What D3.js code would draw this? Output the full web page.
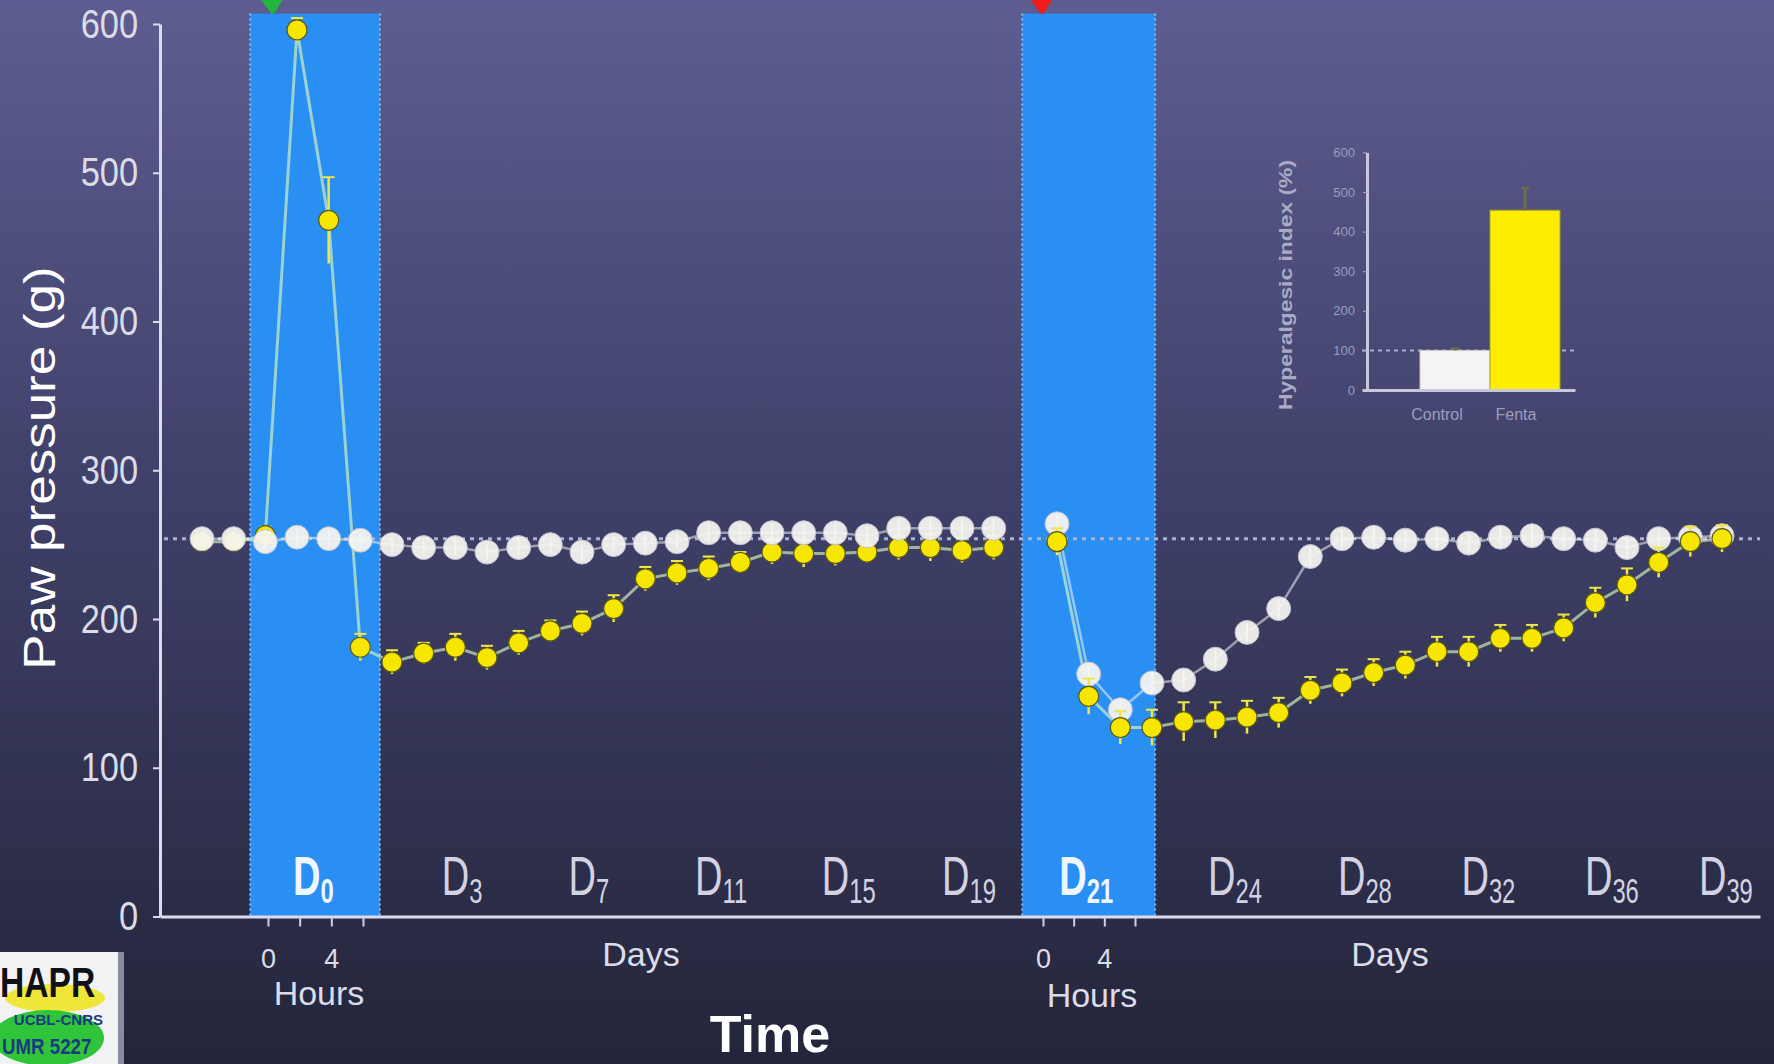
<!DOCTYPE html>
<html>
<head>
<meta charset="utf-8">
<script src="https://cdn.jsdelivr.net/npm/d3@7"></script>
<style>
html, body { margin: 0; padding: 0; background: #2c2d48; }
svg { display: block; }
text { font-family: "Liberation Sans", Arial, sans-serif; }
</style>
</head>
<body>
<svg id="chart"></svg>
<script>
// paw pressure time course, fentanyl vs control

/*  DATA  */

// x position of each measure, in "slots" (one slot = one day / one 2h step)
// 0-1 baseline, 2-5 hours on D0, 6-25 days, gap, 27-30 hours on D21, 31-48 days
const timeSlot = [0,1,2,3,4,5,6,7,8,9,10,11,12,13,14,15,16,17,18,19,20,21,22,23,24,25,
    27,28,29,30,31,32,33,34,35,36,37,38,39,40,41,42,43,44,45,46,47,48];

const control = [254,254,252,255,254,253,250,248,248,245,248,250,245,250,251,252,
    258,258,258,258,258,256,261,261,261,261,
    264,163,139,157,159,173,191,207,242,254,255,253,254,251,255,256,254,253,248,254,255,256];
const controlErr = [5,5,5,5,5,5,5,5,5,5,5,5,5,5,5,5,6,6,6,6,6,6,6,6,6,6,
    6,7,7,8,6,6,6,6,6,6,7,6,7,6,7,8,6,7,7,6,6,6];

const fenta = [252,252,256,596,468,181,171,177,181,174,184,192,197,207,227,231,
    234,238,245,244,244,245,248,248,246,248,
    252,148,127,127,131,132,134,137,152,157,164,169,178,178,187,187,194,211,223,238,252,254];
const fentaErr = [6,6,6,8,29,9,8,7,9,8,8,7,8,9,8,8,8,7,8,9,8,7,8,9,8,8,
    9,12,11,12,13,12,11,10,9,9,9,9,10,10,9,9,9,10,11,10,10,9];

const baselineValue = 254;

// blue windows (injection days), in slots
const windowSlots = [[1.52, 5.62], [25.9, 30.1]];
const windowTop = 607;
const markerSlots = [2.2, 26.5];
const markerColors = ['#1fb83a', '#f01c1c'];

const hourTicks = [0, 2, 4, 6];
const hourTickLabels = ['0', '', '4', ''];

const dayLabels = ['0','3','7','11','15','19','21','24','28','32','36','39'];
const dayLabelSlots = [3.3, 8, 12, 16, 20, 23.8, 27.5, 32.2, 36.3, 40.2, 44.1, 47.7];

const yTicks = [0, 100, 200, 300, 400, 500, 600];

// inset
const insetGroups = ['Control', 'Fenta'];
const insetValues = [100, 454];
const insetErr = [5, 56];
const insetTicks = [0, 100, 200, 300, 400, 500, 600];

/*  SETUP  */

const width = 1774,
    height = 1064;

const svg = d3.select('#chart')
    .attr('width', width)
    .attr('height', height);

const grad = svg.append('defs').append('linearGradient')
    .attr('id', 'bg')
    .attr('x1', 0).attr('y1', 0).attr('x2', 0).attr('y2', 1);
grad.append('stop').attr('offset', '0%').attr('stop-color', '#5e5d91');
grad.append('stop').attr('offset', '45%').attr('stop-color', '#40416a');
grad.append('stop').attr('offset', '100%').attr('stop-color', '#23253a');

svg.append('rect')
    .attr('width', width)
    .attr('height', height)
    .attr('fill', 'url(#bg)');

const x = d3.scaleLinear().domain([0, 48]).range([202, 1722]);
const y = d3.scaleLinear().domain([0, 600]).range([916.5, 24]);

const points = timeSlot.map((s, i) => ({
    s: s,
    c: control[i], ce: controlErr[i],
    f: fenta[i], fe: fentaErr[i],
    block: s < 26 ? 0 : 1
}));

/*  WINDOWS  */

windowSlots.forEach(function(w) {
    svg.append('rect')
        .attr('x', x(w[0]))
        .attr('y', y(windowTop))
        .attr('width', x(w[1]) - x(w[0]))
        .attr('height', y(0) - y(windowTop))
        .attr('fill', '#2a8ff3');
    w.forEach(function(edge) {
        svg.append('line')
            .attr('x1', x(edge)).attr('x2', x(edge))
            .attr('y1', y(windowTop)).attr('y2', y(0))
            .attr('stroke', '#9ccaff')
            .attr('stroke-width', 2)
            .attr('stroke-dasharray', '2,3')
            .attr('opacity', 0.8);
    });
});

markerSlots.forEach(function(s, i) {
    const cx = x(s);
    svg.append('path')
        .attr('d', `M${cx - 11},-4 L${cx + 11},-4 L${cx + 1},12 Z`)
        .attr('fill', markerColors[i])
        .attr('stroke', markerColors[i])
        .attr('stroke-width', 4)
        .attr('stroke-linejoin', 'round');
});

// dotted baseline
svg.append('line')
    .attr('x1', 164).attr('x2', 1760)
    .attr('y1', y(baselineValue)).attr('y2', y(baselineValue))
    .attr('stroke', '#aab2d4')
    .attr('stroke-width', 3)
    .attr('stroke-dasharray', '4,5');

/*  AXES  */

const yAxis = d3.axisLeft(y)
    .tickValues(yTicks)
    .tickSize(7)
    .tickSizeOuter(0)
    .tickFormat(d3.format('d'));

const gy = svg.append('g')
    .attr('transform', 'translate(160,0)')
    .call(yAxis);
gy.select('.domain').attr('stroke', '#dcdcee').attr('stroke-width', 3);
gy.selectAll('.tick line').attr('stroke', '#dcdcee').attr('stroke-width', 2);
gy.selectAll('.tick text')
    .attr('x', -26)
    .attr('transform', 'scale(0.84,1)')
    .attr('fill', '#dcdce8')
    .style('font-size', '41px');

const gx = svg.append('g')
    .attr('transform', `translate(0,${y(0)})`)
    .call(d3.axisBottom(d3.scaleLinear().range([160, 1760])).tickValues([]).tickSizeOuter(0));
gx.select('.domain').attr('stroke', '#dcdcee').attr('stroke-width', 3);

// hour axes under each window
const hourRanges = [[268, 363], [1043, 1135]];
hourRanges.forEach(function(r) {
    const hx = d3.scaleLinear().domain([0, 6]).range(r);
    const g = svg.append('g')
        .attr('transform', `translate(0,${y(0) + 1})`)
        .call(d3.axisBottom(hx)
            .tickValues(hourTicks)
            .tickSize(9)
            .tickFormat((d, i) => hourTickLabels[i]));
    g.select('.domain').remove();
    g.selectAll('.tick line').attr('stroke', '#d0d0e0').attr('stroke-width', 2);
    g.selectAll('.tick text')
        .attr('y', 50.5)
        .attr('dy', 0)
        .attr('fill', '#dcdce8')
        .style('font-size', '27px');
});

/*  SERIES  */

const line = d3.line()
    .x(d => x(d.s))
    .y(d => y(d.v));

[0, 1].forEach(function(b) {
    const pts = points.filter(d => d.block === b);
    svg.append('path')
        .attr('d', line(pts.map(d => ({ s: d.s, v: d.c }))))
        .attr('fill', 'none')
        .attr('stroke', '#ffffff')
        .attr('stroke-opacity', 0.5)
        .attr('stroke-width', 2.5);
    svg.append('path')
        .attr('d', line(pts.map(d => ({ s: d.s, v: d.f }))))
        .attr('fill', 'none')
        .attr('stroke', '#d8f6c0')
        .attr('stroke-opacity', 0.65)
        .attr('stroke-width', 3);
});

function drawWhite(pts) {
    const g = svg.append('g');
    g.selectAll('line.err').data(pts).enter().append('line')
        .attr('x1', d => x(d.s)).attr('x2', d => x(d.s))
        .attr('y1', d => y(d.c - d.ce)).attr('y2', d => y(d.c + d.ce))
        .attr('stroke', '#e6e6f0').attr('stroke-width', 2);
    g.selectAll('circle').data(pts).enter().append('circle')
        .attr('cx', d => x(d.s))
        .attr('cy', d => y(d.c))
        .attr('r', 12)
        .attr('fill', '#f4f4f0')
        .attr('fill-opacity', 0.94)
        .attr('stroke', '#c0c0d0')
        .attr('stroke-width', 1);
}

function drawYellow(pts) {
    const g = svg.append('g');
    g.selectAll('line.err').data(pts).enter().append('line')
        .attr('x1', d => x(d.s)).attr('x2', d => x(d.s))
        .attr('y1', d => y(d.f - d.fe)).attr('y2', d => y(d.f + d.fe))
        .attr('stroke', '#f0e64a').attr('stroke-width', 2.5);
    g.selectAll('line.cap').data(pts).enter().append('line')
        .attr('x1', d => x(d.s) - 6).attr('x2', d => x(d.s) + 6)
        .attr('y1', d => y(d.f + d.fe)).attr('y2', d => y(d.f + d.fe))
        .attr('stroke', '#f0e64a').attr('stroke-width', 2);
    g.selectAll('circle').data(pts).enter().append('circle')
        .attr('cx', d => x(d.s))
        .attr('cy', d => y(d.f))
        .attr('r', 10)
        .attr('fill', '#f6e600')
        .attr('stroke', '#5a5818')
        .attr('stroke-width', 1.2);
}

// block 1: white on top, block 2: yellow on top
drawYellow(points.filter(d => d.block === 0));
drawWhite(points.filter(d => d.block === 0));
drawWhite(points.filter(d => d.block === 1));
drawYellow(points.filter(d => d.block === 1));

/*  LABELS  */

dayLabels.forEach(function(lab, i) {
    const s = dayLabelSlots[i];
    const inWindow = windowSlots.some(w => s > w[0] && s < w[1]);
    const t = svg.append('text')
        .attr('transform', `translate(${x(s)},895) scale(0.68,1)`)
        .attr('x', -20)
        .attr('fill', inWindow ? '#eef6ff' : '#d2d2e2')
        .style('font-size', '56px')
        .style('font-weight', inWindow ? 'bold' : 'normal')
        .text('D');
    t.append('tspan')
        .attr('dy', 8)
        .style('font-size', '35px')
        .text(lab);
});

const axisText = [
    { t: 'Hours', x: 319, y: 1005 },
    { t: 'Hours', x: 1092, y: 1007 },
    { t: 'Days', x: 641, y: 966 },
    { t: 'Days', x: 1390, y: 966 }
];
axisText.forEach(function(d) {
    svg.append('text')
        .attr('x', d.x).attr('y', d.y)
        .attr('text-anchor', 'middle')
        .attr('fill', '#dcdce8')
        .style('font-size', '34px')
        .text(d.t);
});

svg.append('text')
    .attr('x', 770).attr('y', 1052)
    .attr('text-anchor', 'middle')
    .attr('fill', '#ffffff')
    .style('font-size', '52px')
    .style('font-weight', 'bold')
    .text('Time');

svg.append('text')
    .attr('transform', 'translate(40,468) scale(0.82,1) rotate(-90)')
    .attr('text-anchor', 'middle')
    .attr('dy', '0.35em')
    .attr('fill', '#ffffff')
    .style('font-size', '53px')
    .text('Paw pressure (g)');

/*  INSET  */

const yi = d3.scaleLinear().domain([0, 600]).range([390, 152.4]);
const xi = d3.scaleBand().domain(insetGroups).range([1420, 1560]).padding(0);

const inset = svg.append('g');

inset.append('line')
    .attr('x1', 1362).attr('x2', 1575)
    .attr('y1', yi(100)).attr('y2', yi(100))
    .attr('stroke', '#a8aed0')
    .attr('stroke-width', 2)
    .attr('stroke-dasharray', '4,4');

inset.selectAll('rect.bar').data(insetGroups).enter().append('rect')
    .attr('x', d => xi(d))
    .attr('y', (d, i) => yi(insetValues[i]))
    .attr('width', xi.bandwidth())
    .attr('height', (d, i) => yi(0) - yi(insetValues[i]))
    .attr('fill', (d, i) => i === 0 ? '#f4f4f4' : '#ffee00')
    .attr('stroke', (d, i) => i === 0 ? '#c8c8d0' : '#a8a020')
    .attr('stroke-width', 1);

inset.selectAll('line.ierr').data(insetGroups).enter().append('line')
    .attr('x1', d => xi(d) + xi.bandwidth() / 2)
    .attr('x2', d => xi(d) + xi.bandwidth() / 2)
    .attr('y1', (d, i) => yi(insetValues[i]))
    .attr('y2', (d, i) => yi(insetValues[i] + insetErr[i]))
    .attr('stroke', '#6b7048')
    .attr('stroke-width', 3);

inset.selectAll('line.icap').data(insetGroups).enter().append('line')
    .attr('x1', d => xi(d) + xi.bandwidth() / 2 - 4)
    .attr('x2', d => xi(d) + xi.bandwidth() / 2 + 4)
    .attr('y1', (d, i) => yi(insetValues[i] + insetErr[i]))
    .attr('y2', (d, i) => yi(insetValues[i] + insetErr[i]))
    .attr('stroke', '#6b7048')
    .attr('stroke-width', 2);

const giy = inset.append('g')
    .attr('transform', 'translate(1367,0)')
    .call(d3.axisLeft(yi).tickValues(insetTicks).tickSize(4).tickSizeOuter(0).tickPadding(8));
giy.select('.domain').attr('stroke', '#c8c8dc').attr('stroke-width', 3);
giy.selectAll('.tick line').attr('stroke', '#a8a8c4');
giy.selectAll('.tick text')
    .attr('fill', '#9c9cbc')
    .style('font-size', '13px');

const gix = inset.append('g')
    .attr('transform', `translate(0,${yi(0)})`)
    .call(d3.axisBottom(d3.scaleLinear().range([1362, 1575])).tickValues([]).tickSizeOuter(0));
gix.select('.domain').attr('stroke', '#c8c8dc').attr('stroke-width', 3);

inset.selectAll('text.grp').data(insetGroups).enter().append('text')
    .attr('x', (d, i) => i === 0 ? 1437 : 1516)
    .attr('y', 420)
    .attr('text-anchor', 'middle')
    .attr('fill', '#9c9cbc')
    .style('font-size', '16px')
    .text(d => d);

inset.append('text')
    .attr('transform', 'translate(1285,285) rotate(-90)')
    .attr('text-anchor', 'middle')
    .attr('dy', '0.35em')
    .attr('fill', '#aaaac6')
    .attr('textLength', 250)
    .attr('lengthAdjust', 'spacingAndGlyphs')
    .style('font-size', '19px')
    .style('font-weight', 'bold')
    .text('Hyperalgesic index (%)');

/*  LOGO  */

const logo = svg.append('g');
logo.append('rect').attr('x', 118).attr('y', 952).attr('width', 6).attr('height', 112).attr('fill', '#8a8aa0');
logo.append('rect').attr('x', 0).attr('y', 952).attr('width', 118).attr('height', 112).attr('fill', '#f2f2f4');
logo.append('ellipse').attr('cx', 55).attr('cy', 998).attr('rx', 50).attr('ry', 14).attr('fill', '#f0e63a');
logo.append('ellipse').attr('cx', 48).attr('cy', 1038).attr('rx', 56).attr('ry', 28).attr('fill', '#30c43a');
logo.append('text')
    .attr('transform', 'translate(0,997) scale(0.8,1)')
    .attr('fill', '#101018')
    .style('font-size', '42px')
    .style('font-weight', 'bold')
    .text('HAPR');
logo.append('text')
    .attr('x', 103).attr('y', 1025)
    .attr('text-anchor', 'end')
    .attr('fill', '#1a3a80')
    .style('font-size', '15px')
    .style('font-weight', 'bold')
    .text('UCBL-CNRS');
logo.append('text')
    .attr('transform', 'translate(2,1054) scale(0.85,1)')
    .attr('fill', '#1a3a80')
    .style('font-size', '22px')
    .style('font-weight', 'bold')
    .text('UMR 5227');
</script>
</body>
</html>
